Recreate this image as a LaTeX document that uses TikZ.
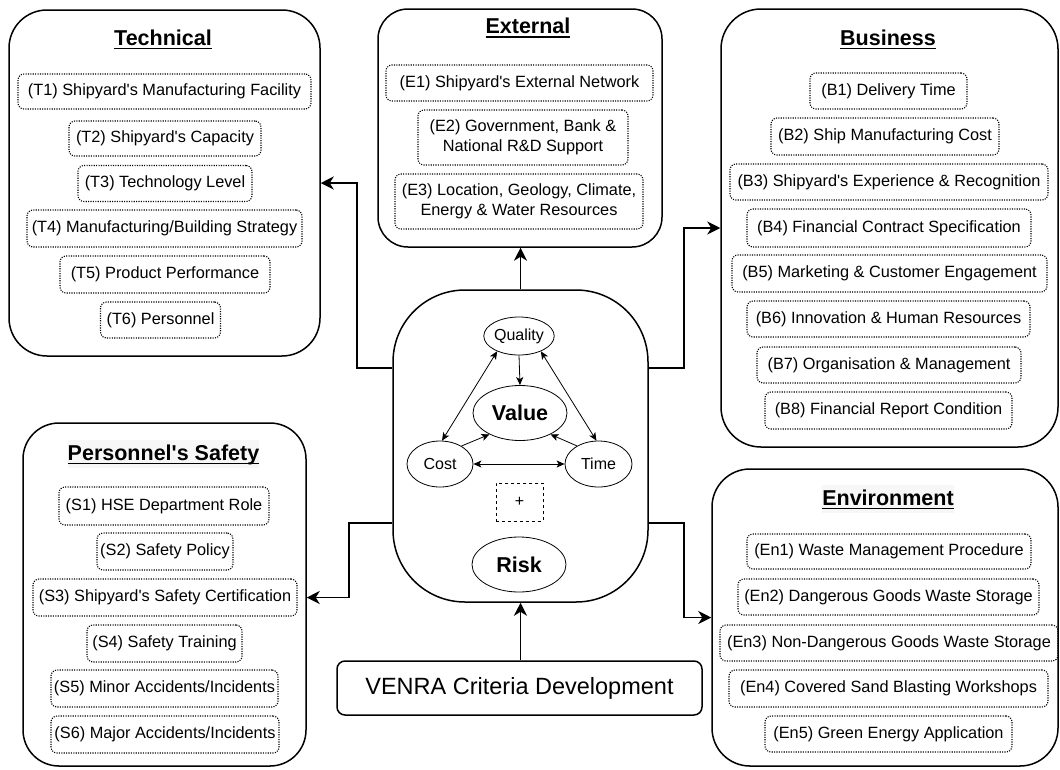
\documentclass[tikz,border=0pt]{standalone}
\usepackage{fontspec}
\setmainfont{Liberation Sans}[Ligatures=TeXOff]
\usetikzlibrary{arrows.meta,shapes.geometric}

% bold title with a rule just under the baseline
\newcommand\titleline[1]{\setbox0=\hbox{#1}\rlap{\rule[-4.3pt]{\wd0}{1.5pt}}\box0}

\tikzset{
  group/.style={draw, line width=1.5pt, rounded corners=#1, inner sep=0pt},
  ttl/.style={font=\fontsize{21.5}{24}\selectfont\bfseries, inner sep=1pt, anchor=base},
  crit/.style={draw, line width=1.1pt, dash pattern=on 1.1pt off 1.3pt, rounded corners=6pt,
    font=\fontsize{16.3}{19.5}\selectfont, align=center, inner xsep=1pt, inner ysep=0pt},
  ell/.style={draw, ellipse, line width=0.8pt, inner sep=0pt},
  conn/.style={line width=1.5pt, -{Stealth[length=13pt,width=13pt,inset=4pt]}},
  inarrow/.style={line width=0.8pt, -{Stealth[length=8pt,width=7pt,inset=2pt]}},
  inboth/.style={line width=0.8pt, {Stealth[length=8pt,width=7pt,inset=2pt]}-{Stealth[length=8pt,width=7pt,inset=2pt]}}
}

\begin{document}
\begin{tikzpicture}[x=1pt,y=-1pt]
\useasboundingbox (0,0) rectangle (1060,769);

% ---------- category frames ----------
\node[group=38pt, minimum width=311, minimum height=346] (tech) at (164.5,183) {};
\node[group=30pt, minimum width=284, minimum height=238] (ext) at (520,128) {};
\node[group=40pt, minimum width=337, minimum height=438] (bus) at (889.5,228) {};
\node[group=36pt, minimum width=283, minimum height=343] (saf) at (164.5,594.5) {};
\node[group=38pt, minimum width=346, minimum height=297] (env) at (885,617.5) {};
\node[group=72pt, minimum width=255, minimum height=312] (core) at (520.5,446) {};
\node[group=8pt, minimum width=365, minimum height=54,
      font=\fontsize{23.5}{26}\selectfont] (venra) at (519.5,688) {VENRA Criteria Development};

% ---------- titles ----------
\node[ttl] (ttech) at (163,45) {\titleline{Technical}};
\node[ttl] (text) at (528,33.3) {\titleline{External}};
\node[ttl] (tbus) at (888,45) {\titleline{Business}};
\node[ttl, fill=black!3, inner xsep=0pt, inner ysep=4pt] (tsaf) at (163.5,460) {\titleline{Personnel's Safety}};
\node[ttl, fill=black!3, inner xsep=0pt, inner ysep=4pt] (tenv) at (888,505) {\titleline{Environment}};

% ---------- technical criteria ----------
\node[crit, minimum width=293, minimum height=35] (t1) at (164.5,91.5) {(T1) Shipyard's Manufacturing Facility};
\node[crit, minimum width=192, minimum height=35] (t2) at (165,138.5) {(T2) Shipyard's Capacity};
\node[crit, minimum width=174, minimum height=36] (t3) at (165,183.5) {(T3) Technology Level};
\node[crit, minimum width=275, minimum height=37] (t4) at (164.5,228.5) {(T4) Manufacturing/Building Strategy};
\node[crit, minimum width=210, minimum height=37] (t5) at (165,274.5) {(T5) Product Performance};
\node[crit, minimum width=120, minimum height=36] (t6) at (160.5,320) {(T6) Personnel};

% ---------- external criteria ----------
\node[crit, minimum width=267, minimum height=36] (e1) at (519.5,83) {(E1) Shipyard's External Network};
\node[crit, minimum width=210, minimum height=55] (e2) at (523,137.5) {(E2) Government, Bank \&\\National R\&D Support};
\node[crit, minimum width=248, minimum height=55] (e3) at (519,201.5) {(E3) Location, Geology, Climate,\\Energy \& Water Resources};

% ---------- business criteria ----------
\node[crit, minimum width=157, minimum height=36] (b1) at (888.5,91) {(B1) Delivery Time};
\node[crit, minimum width=228, minimum height=37] (b2) at (885,136.5) {(B2) Ship Manufacturing Cost};
\node[crit, minimum width=318, minimum height=36] (b3) at (889,182) {(B3) Shipyard's Experience \& Recognition};
\node[crit, minimum width=284, minimum height=38] (b4) at (889,228) {(B4) Financial Contract Specification};
\node[crit, minimum width=315, minimum height=37] (b5) at (889.5,273.5) {(B5) Marketing \& Customer Engagement};
\node[crit, minimum width=283, minimum height=36] (b6) at (888.5,319) {(B6) Innovation \& Human Resources};
\node[crit, minimum width=264, minimum height=36] (b7) at (889,365) {(B7) Organisation \& Management};
\node[crit, minimum width=247, minimum height=37] (b8) at (888.5,410.5) {(B8) Financial Report Condition};

% ---------- safety criteria ----------
\node[crit, minimum width=210, minimum height=38] (s1) at (164,506) {(S1) HSE Department Role};
\node[crit, minimum width=136, minimum height=37] (s2) at (165,551.5) {(S2) Safety Policy};
\node[crit, minimum width=264, minimum height=37] (s3) at (165,597.5) {(S3) Shipyard's Safety Certification};
\node[crit, minimum width=155, minimum height=37] (s4) at (164.5,643.5) {(S4) Safety Training};
\node[crit, minimum width=227, minimum height=37] (s5) at (164.5,688.5) {(S5) Minor Accidents/Incidents};
\node[crit, minimum width=228, minimum height=37] (s6) at (165,734.5) {(S6) Major Accidents/Incidents};

% ---------- environment criteria ----------
\node[crit, minimum width=284, minimum height=35] (n1) at (889,551.5) {(En1) Waste Management Procedure};
\node[crit, minimum width=301, minimum height=36] (n2) at (888.5,597) {(En2) Dangerous Goods Waste Storage};
\node[crit, minimum width=338, minimum height=36] (n3) at (889,643) {(En3) Non-Dangerous Goods Waste Storage};
\node[crit, minimum width=319, minimum height=37] (n4) at (888.5,688.5) {(En4) Covered Sand Blasting Workshops};
\node[crit, minimum width=247, minimum height=36] (n5) at (888.5,734) {(En5) Green Energy Application};

% ---------- value / risk core ----------
\node[ell, minimum width=65, minimum height=38, font=\fontsize{16}{18}\selectfont] (qual) at (519,336) {Quality};
\node[ell, minimum width=94, minimum height=55, font=\fontsize{21.5}{24}\selectfont\bfseries] (val) at (520,413) {Value};
\node[ell, minimum width=66, minimum height=46, font=\fontsize{16}{18}\selectfont] (cost) at (440,464) {Cost};
\node[ell, minimum width=67, minimum height=46, font=\fontsize{16}{18}\selectfont] (time) at (598.5,464) {Time};
\node[draw, line width=0.8pt, dash pattern=on 3pt off 3pt, minimum width=47, minimum height=38,
      inner sep=0pt, font=\fontsize{16}{18}\selectfont] (plus) at (519.5,502) {+};
\node[ell, minimum width=94, minimum height=55, font=\fontsize{21.5}{24}\selectfont\bfseries] (risk) at (519,564.5) {Risk};

\draw[inarrow] (qual.south) -- (val.north);
\draw[inboth] (qual.215) -- (cost.85);
\draw[inboth] (qual.325) -- (time.95);
\draw[inarrow] (cost.40) -- (val.215);
\draw[inarrow] (time.140) -- (val.325);
\draw[inboth] (cost.east) -- (time.west);

% ---------- connectors ----------
\coordinate (tk) at (357,368);
\coordinate (bk) at (684,368);
\coordinate (sk) at (349,523);
\coordinate (ek) at (684,523);

\draw[conn] (core.west |- tk) -- (tk) |- (tech.east);
\draw[conn] (core.east |- bk) -- (bk) |- (bus.west);
\draw[conn] (core.north) -- (core.north |- ext.south);
\draw[conn] (core.west |- sk) -- (sk) |- (saf.east |- s3);
\draw[conn] (core.east |- ek) -- (ek) |- (env.west);
\draw[conn] (venra.north -| core.south) -- (core.south);
\end{tikzpicture}
\end{document}
